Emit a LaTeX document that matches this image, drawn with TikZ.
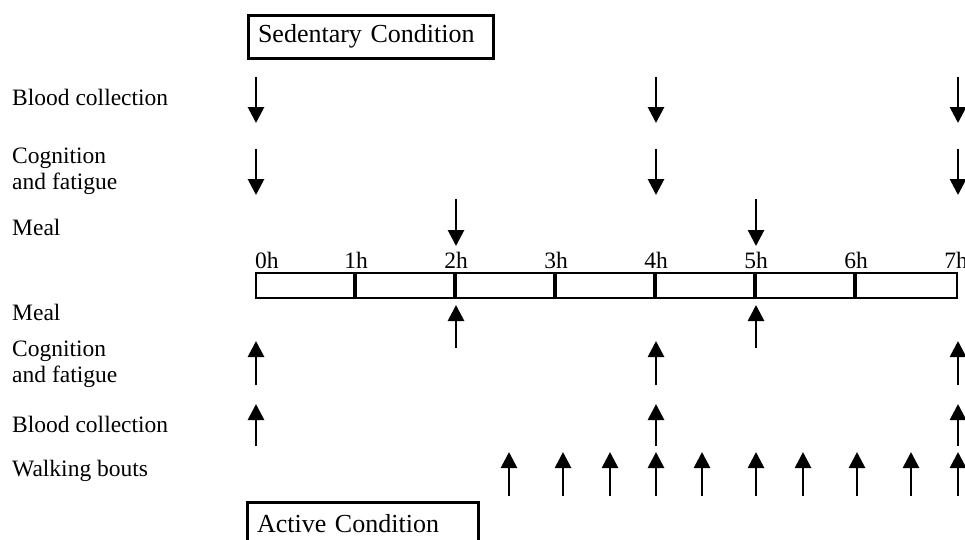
\documentclass[tikz,border=0pt]{standalone}
\usepackage{fontspec}
\setmainfont{Liberation Serif}
\usetikzlibrary{arrows.meta,calc}
\begin{document}
\begin{tikzpicture}[x=1pt,y=-1pt,
  lbl/.style={font=\fontsize{23.5}{26}\selectfont, inner sep=0pt, anchor=base west, align=left},
  hr/.style={font=\fontsize{23.5}{26}\selectfont, inner sep=0pt, anchor=base},
  cond/.style={draw, line width=3pt, font=\fontsize{26}{30}\selectfont, inner xsep=10pt, inner ysep=0pt, align=left, minimum height=43pt},
  evt/.style={line width=2.8pt, -{Triangle[length=16pt,width=16pt]}}]
\clip (0,0) rectangle (965,539);
\fill[white] (0,0) rectangle (965,539);

% condition boxes
\node[cond, text width=225pt] (sed) at (370.5,36.5) {Sedentary Condition};
\node[cond, text width=211pt] (act) at (362.5,523.5) {Active Condition};

% row labels
\node[lbl] (lblood1) at (12,105) {Blood collection};
\node[lbl] (lcog1) at (12,189) {Cognition\\and fatigue};
\node[lbl] (lmeal1) at (12,235) {Meal};
\node[lbl] (lmeal2) at (12,320) {Meal};
\node[lbl] (lcog2) at (12,382) {Cognition\\and fatigue};
\node[lbl] (lblood2) at (12,432) {Blood collection};
\node[lbl] (lwalk) at (12,476) {Walking bouts};

% timeline bar
\node[draw, line width=2.2pt, inner sep=0pt, minimum width=701pt, minimum height=25pt] (bar) at (606.5,285.5) {};
\foreach \i in {1,...,6}{
  \draw[line width=4pt] ($(bar.north west)+(\i*100,0)$) -- ($(bar.south west)+(\i*100,0)$);
}
\node[hr, anchor=base west] (h0) at (255,268) {0h};
\foreach \i in {1,...,7}{
  \node[hr] (h\i) at (256+\i*100,268) {\i h};
}

% top (sedentary) arrows
\foreach \x [count=\k] in {256,656,958}{
  \coordinate (bs\k) at (\x,77); \coordinate (be\k) at (\x,123);
  \draw[evt] (bs\k) -- (be\k);
  \coordinate (cs\k) at (\x,149); \coordinate (ce\k) at (\x,195);
  \draw[evt] (cs\k) -- (ce\k);
}
\foreach \x [count=\k] in {456,756}{
  \coordinate (ms\k) at (\x,199); \coordinate (me\k) at (\x,246);
  \draw[evt] (ms\k) -- (me\k);
}

% bottom (active) arrows
\foreach \x [count=\k] in {456,756}{
  \coordinate (mas\k) at (\x,348); \coordinate (mae\k) at (\x,305);
  \draw[evt] (mas\k) -- (mae\k);
}
\foreach \x [count=\k] in {256,656,958}{
  \coordinate (cas\k) at (\x,385); \coordinate (cae\k) at (\x,341);
  \draw[evt] (cas\k) -- (cae\k);
  \coordinate (bas\k) at (\x,446); \coordinate (bae\k) at (\x,404);
  \draw[evt] (bas\k) -- (bae\k);
}
\foreach \x [count=\k] in {509,563,610,656,702,756,803,857,911,958}{
  \coordinate (ws\k) at (\x,496); \coordinate (we\k) at (\x,452);
  \draw[evt] (ws\k) -- (we\k);
}
\end{tikzpicture}
\end{document}
